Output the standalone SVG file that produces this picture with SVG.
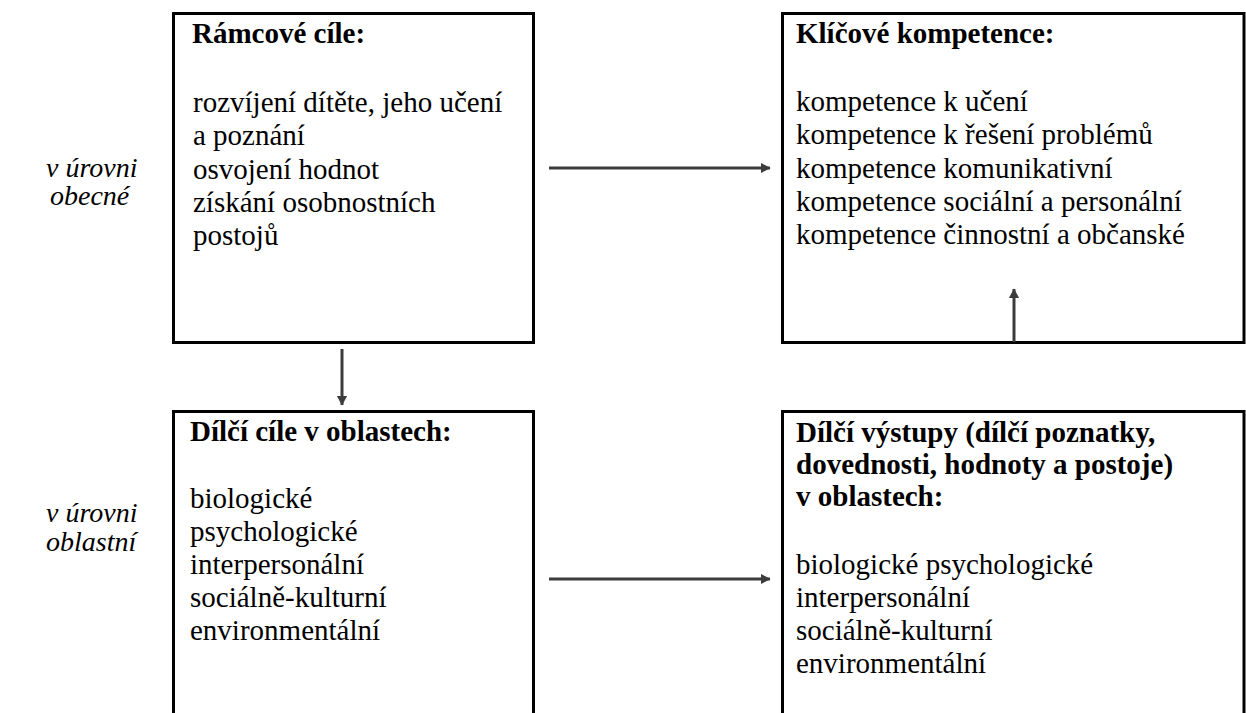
<svg xmlns="http://www.w3.org/2000/svg" width="1246" height="713" viewBox="0 0 1246 713">
<defs>
<style>
.box{fill:#fff;stroke:#000;stroke-width:3}
text{font-family:'Liberation Serif','DejaVu Serif','Times New Roman',serif;font-size:29px;fill:#000}
.b{font-weight:bold}
.i{font-style:italic;font-size:28px}
.c{stroke:#3c3c3c;stroke-width:3;fill:none}
</style>
<marker id="ah" markerWidth="4" markerHeight="4" refX="3" refY="2" orient="auto" markerUnits="strokeWidth">
<path d="M0,0.3 L3.2,2 L0,3.7 Z" fill="#3c3c3c"/>
</marker>
</defs>
<rect width="1246" height="713" fill="#fff"/>
<g id="labels">
<text class="i"><tspan x="46" y="177">v úrovni</tspan><tspan x="50" y="205">obecné</tspan></text>
<text class="i"><tspan x="46" y="522">v úrovni</tspan><tspan x="46" y="551">oblastní</tspan></text>
</g>
<g id="ramcove">
<rect class="box" x="173.5" y="13.5" width="360" height="329"/>
<text class="b" x="192" y="43">Rámcové cíle:</text>
<text x="193" y="112">rozvíjení dítěte, jeho učení</text>
<text x="193" y="145">a poznání</text>
<text x="193" y="179">osvojení hodnot</text>
<text x="193" y="212">získání osobnostních</text>
<text x="193" y="245">postojů</text>
</g>
<g id="klicove">
<rect class="box" x="782.5" y="13.5" width="461.5" height="329"/>
<text class="b" x="796" y="43">Klíčové kompetence:</text>
<text x="796" y="111">kompetence k učení</text>
<text x="796" y="144">kompetence k řešení problémů</text>
<text x="796" y="178">kompetence komunikativní</text>
<text x="796" y="211">kompetence sociální a personální</text>
<text x="796" y="244">kompetence činnostní a občanské</text>
</g>
<g id="dilci-cile">
<rect class="box" x="173.5" y="411.5" width="360" height="320"/>
<text class="b" x="190" y="441">Dílčí cíle v oblastech:</text>
<text x="190" y="508">biologické</text>
<text x="190" y="541">psychologické</text>
<text x="190" y="574">interpersonální</text>
<text x="190" y="607">sociálně-kulturní</text>
<text x="190" y="640">environmentální</text>
</g>
<g id="dilci-vystupy">
<rect class="box" x="782.5" y="411.5" width="461.5" height="320"/>
<text class="b" x="796" y="442">Dílčí výstupy (dílčí poznatky,</text>
<text class="b" x="796" y="474">dovednosti, hodnoty a postoje)</text>
<text class="b" x="796" y="506">v oblastech:</text>
<text x="796" y="574">biologické psychologické</text>
<text x="796" y="607">interpersonální</text>
<text x="796" y="640">sociálně-kulturní</text>
<text x="796" y="673">environmentální</text>
</g>
<g id="connectors">
<line class="c" x1="549" y1="168" x2="770" y2="168" marker-end="url(#ah)"/>
<line class="c" x1="549" y1="579" x2="770" y2="579" marker-end="url(#ah)"/>
<line class="c" x1="342" y1="349" x2="342" y2="405" marker-end="url(#ah)"/>
<line class="c" x1="1014" y1="342" x2="1014" y2="289" marker-end="url(#ah)"/>
</g>
</svg>
